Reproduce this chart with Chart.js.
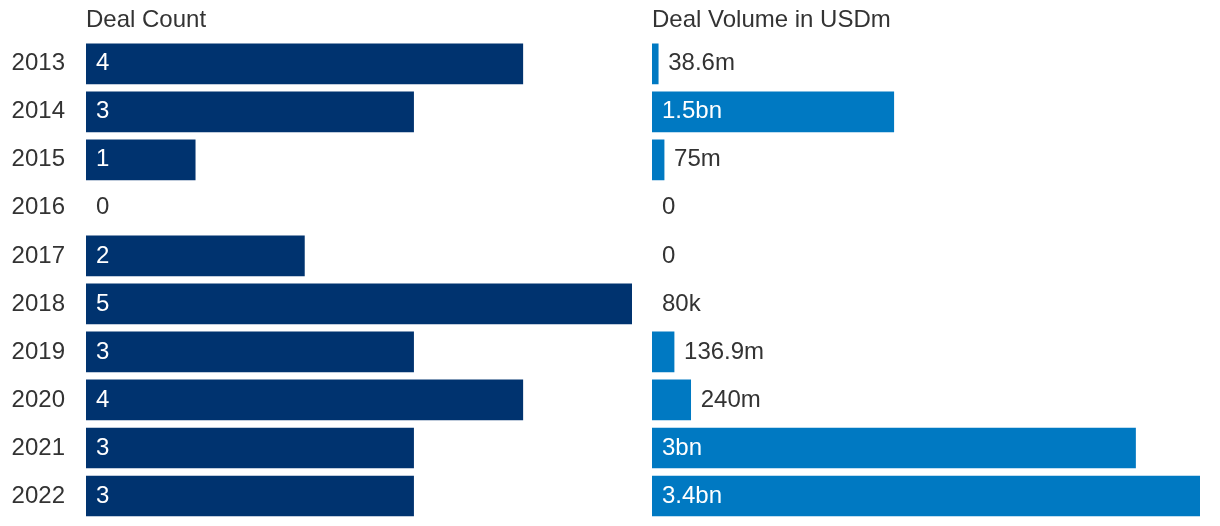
<!DOCTYPE html>
<html>
<head>
<meta charset="utf-8">
<script src="https://cdn.jsdelivr.net/npm/chart.js@4/dist/chart.umd.min.js"></script>
<style>
	body { margin: 0; background: #ffffff; }
	#countBox { position: absolute; left: 0; top: 0; }
	#volumeBox { position: absolute; left: 640px; top: 0; }
</style>
</head>
<body>
<div id="countBox"><canvas id="countChart" width="640" height="526"></canvas></div>
<div id="volumeBox"><canvas id="volumeChart" width="580" height="526"></canvas></div>
<script>
// chart data
var years = ['2013', '2014', '2015', '2016', '2017', '2018', '2019', '2020', '2021', '2022'];
var dealCount = [4, 3, 1, 0, 2, 5, 3, 4, 3, 3];
var dealVolume = [38.6, 1500, 75, 0, 0, 0.08, 136.9, 240, 3000, 3400]; // USDm
var volumeLabels = ['38.6m', '1.5bn', '75m', '0', '0', '80k', '136.9m', '240m', '3bn', '3.4bn'];

var colors = {
	navy: '#00336f',
	blue: '#0079c2',
	text: '#333333'
};

var fontFamily = '"Liberation Sans", Arial, Helvetica, sans-serif';
Chart.defaults.font.family = fontFamily;

// draws the value next to / inside each bar
function barLabels(labels) {
	return {
		id: 'barLabels',
		afterDatasetsDraw: function (chart) {
			var ctx = chart.ctx;
			var bars = chart.getDatasetMeta(0).data;
			ctx.save();
			ctx.font = '24px ' + fontFamily;
			ctx.textBaseline = 'middle';
			ctx.textAlign = 'left';
			bars.forEach(function (bar, i) {
				var text = labels[i];
				var w = ctx.measureText(text).width;
				if (bar.x - bar.base > w + 20) {
					ctx.fillStyle = '#ffffff';
					ctx.fillText(text, bar.base + 10, bar.y);
				} else {
					ctx.fillStyle = colors.text;
					ctx.fillText(text, bar.x + 10, bar.y);
				}
			});
			ctx.restore();
		}
	};
}

function makeConfig(values, labels, color, title, max, showYears, padding) {
	return {
		type: 'bar',
		data: {
			labels: years,
			datasets: [{
				data: values,
				// bars thinner than a pixel are not drawn at all
				backgroundColor: function (c) {
					return c.raw / max < 0.001 ? 'rgba(0,0,0,0)' : color;
				},
				barThickness: 40
			}]
		},
		options: {
			indexAxis: 'y',
			responsive: false,
			animation: false,
			layout: { padding: padding },
			plugins: {
				legend: { display: false },
				tooltip: { enabled: false }
			},
			scales: {
				x: {
					position: 'top',
					min: 0,
					max: max,
					grid: { display: false, drawTicks: false },
					border: { display: false },
					ticks: { display: false },
					title: {
						display: true,
						text: title,
						align: 'start',
						color: colors.text,
						font: { size: 24 },
						padding: { top: 6, bottom: 5 }
					}
				},
				y: {
					grid: { display: false, drawTicks: false },
					border: { display: false },
					ticks: {
						display: showYears,
						color: colors.text,
						font: { size: 24 },
						padding: 21
					},
					afterFit: function (scale) {
						if (showYears) {
							scale.width = 86;
						}
						scale.paddingTop = 0;
						scale.paddingBottom = 0;
					}
				}
			}
		},
		plugins: [barLabels(labels)]
	};
}

var countChart = new Chart(document.getElementById('countChart'),
	makeConfig(dealCount, dealCount.map(String), colors.navy, 'Deal Count', 5, true,
		{ left: 0, right: 8, top: 0, bottom: 6 }));

var volumeChart = new Chart(document.getElementById('volumeChart'),
	makeConfig(dealVolume, volumeLabels, colors.blue, 'Deal Volume in USDm', 3400, false,
		{ left: 12, right: 20, top: 0, bottom: 6 }));
</script>
</body>
</html>
